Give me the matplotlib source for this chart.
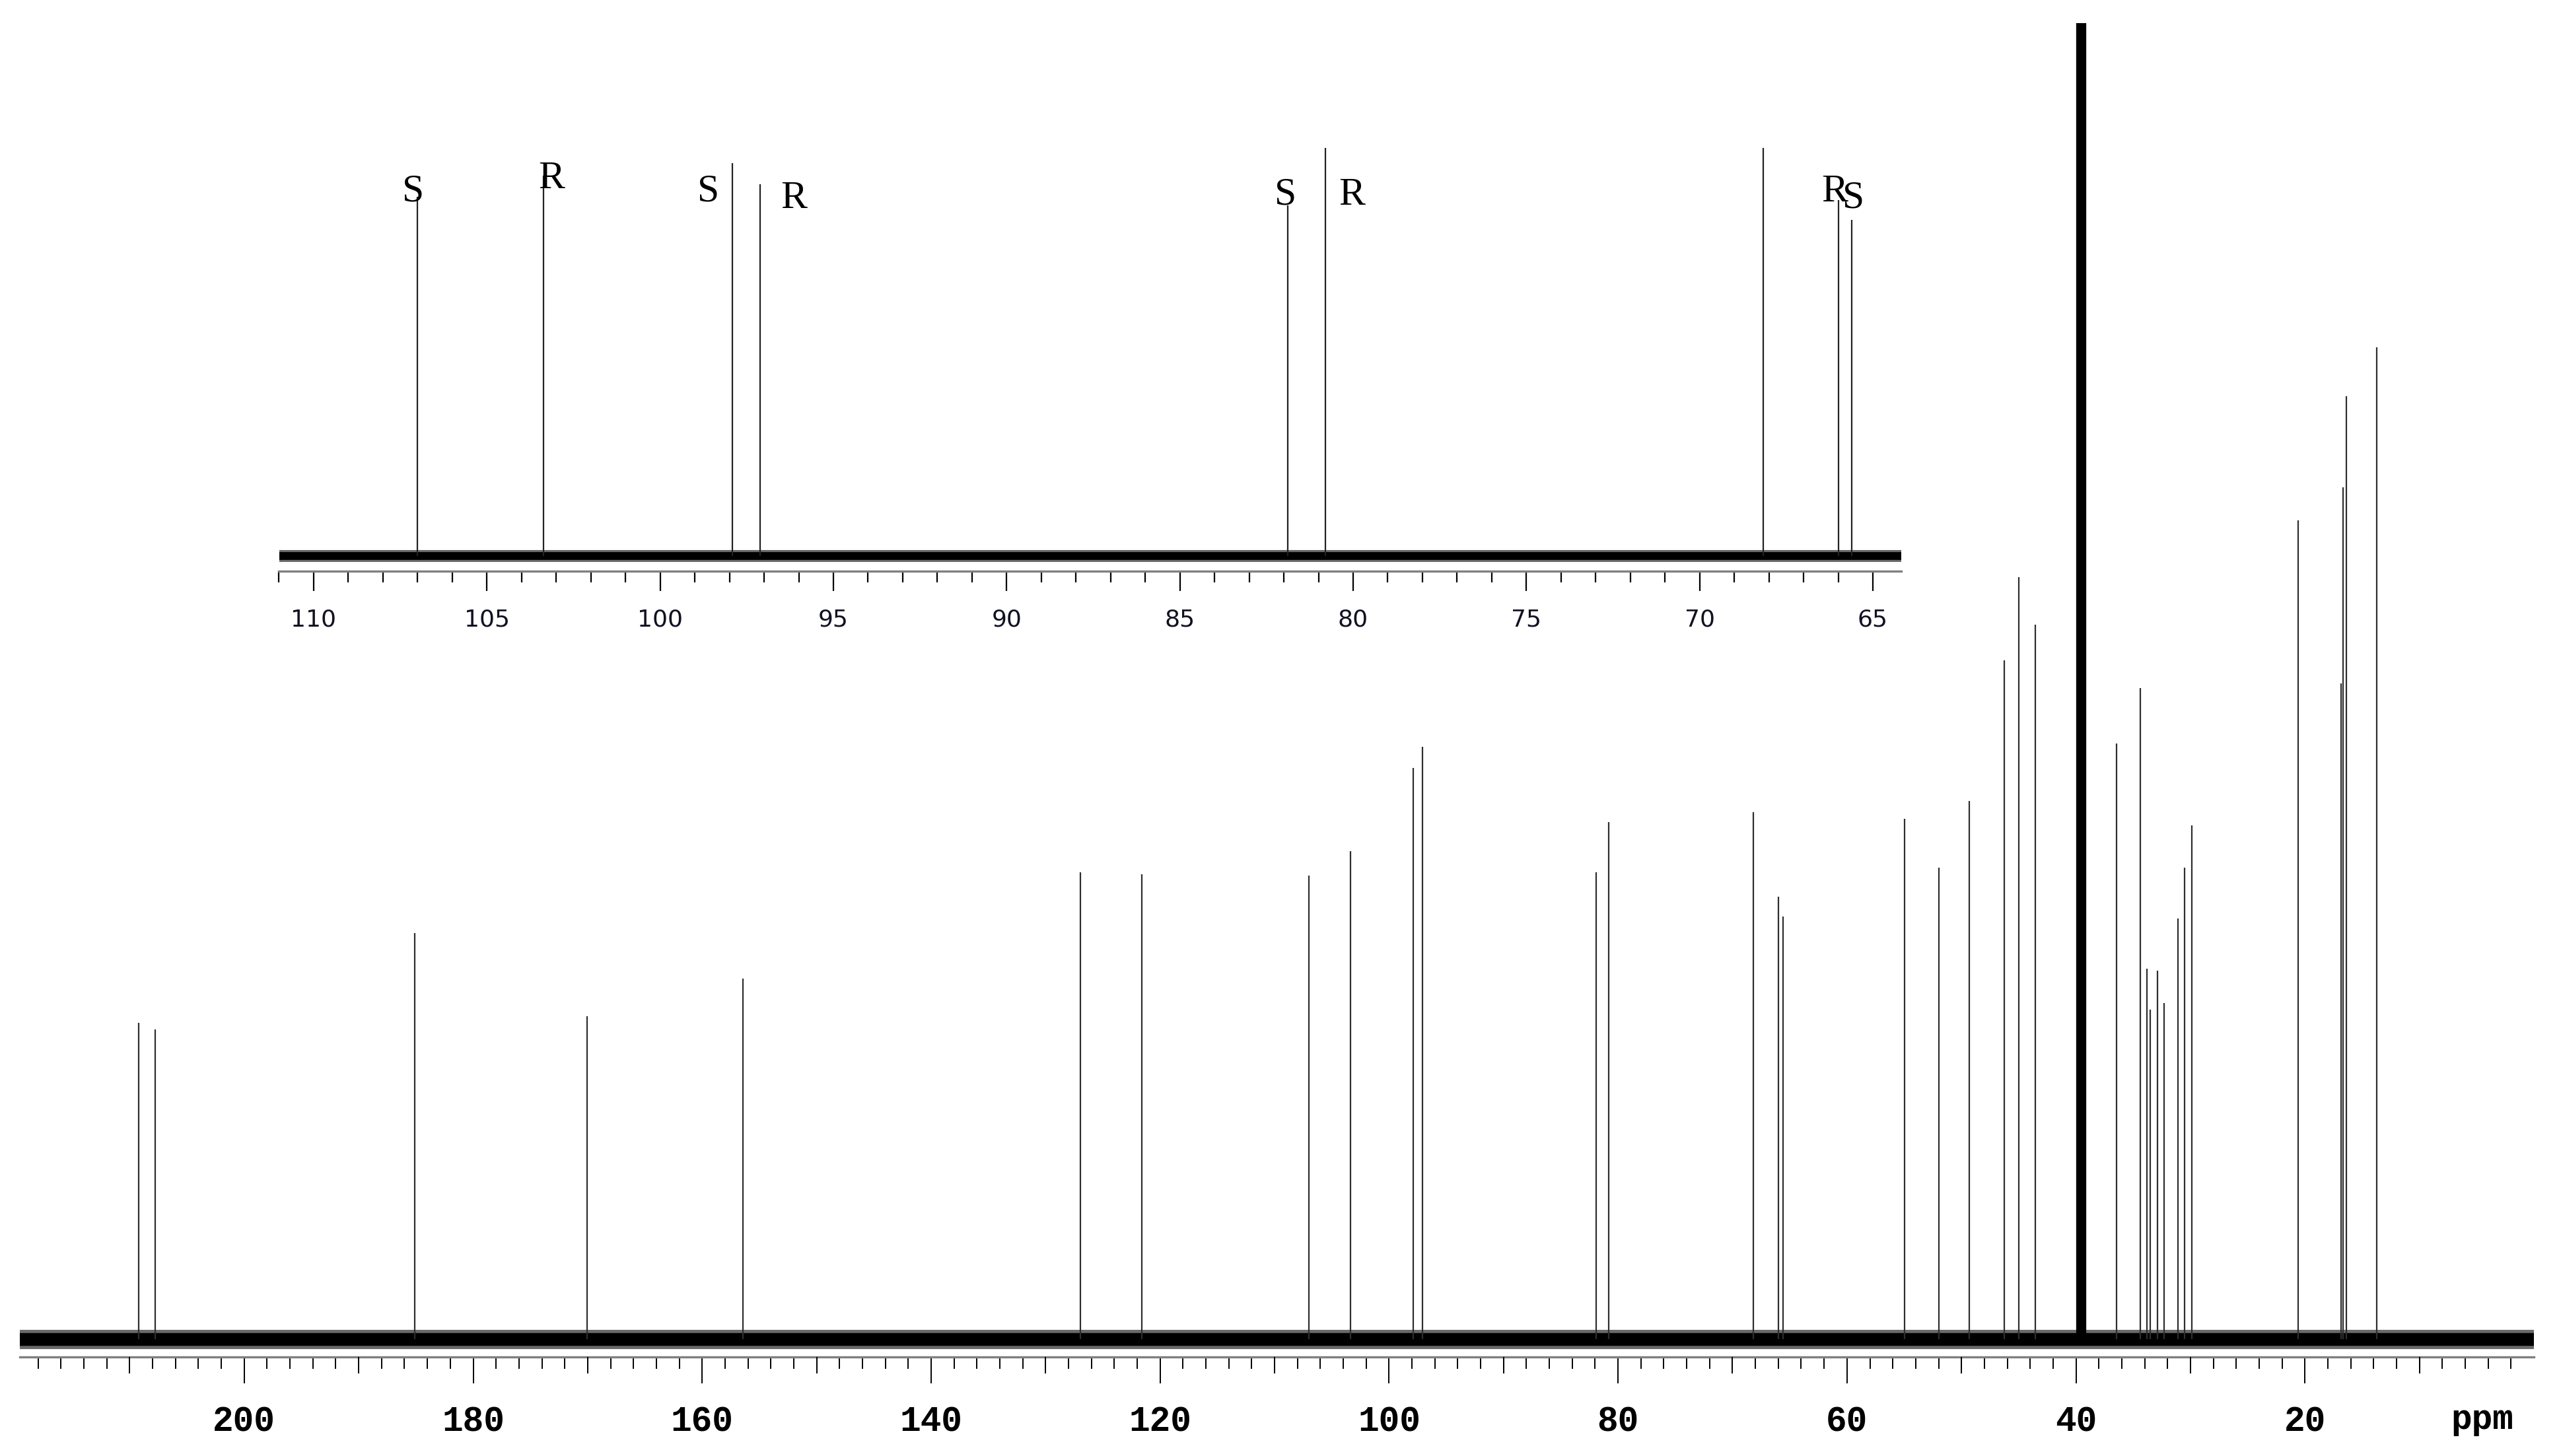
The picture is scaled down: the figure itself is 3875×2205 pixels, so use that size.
import matplotlib
matplotlib.use("Agg")
import matplotlib.pyplot as plt
import numpy as np

# 13C NMR peaks, main spectrum (ppm, intensity in arbitrary units)
main_ppm = [209.2, 207.75, 185.1, 170.05, 156.45, 126.95, 121.6, 107.0, 103.35,
            97.9, 97.1, 81.9, 80.8, 68.2, 66.0, 65.6, 54.95, 51.95, 49.3,
            46.25, 45.0, 43.55, 36.45, 34.4, 33.8, 33.5, 32.9, 32.3, 31.1,
            30.5, 29.9, 20.6, 16.85, 16.65, 16.4, 13.7]
main_int = [194, 190, 249, 198, 221, 286, 285, 284, 299,
            350, 363, 286, 317, 323, 271, 259, 319, 289, 330,
            416, 467, 438, 365, 399, 227, 202, 226, 206, 258,
            289, 315, 502, 402, 522, 578, 608]

# solvent (DMSO-d6), off scale
solvent_ppm = 39.55
solvent_int = 1500

# expanded region 111-64 ppm
inset_ppm = [107.0, 103.37, 97.92, 97.12, 81.89, 80.8, 68.17, 66.0, 65.6]
inset_int = [220, 233, 241, 228, 215, 250, 250, 218, 206]

# R / S assignments in the expansion
label_text = ["S", "R", "S", "R", "S", "R", "R", "S"]
label_ppm = [107.13, 103.14, 98.6, 96.13, 81.95, 80.04, 66.11, 65.55]
label_int = [223, 231, 223, 219, 221, 221, 223, 219]

main_major = list(range(20, 201, 20))
main_mid = list(range(10, 220, 20))
main_minor = list(range(2, 219, 2))
inset_major = list(range(65, 111, 5))
inset_minor = list(range(65, 112, 1))

W, H = 3875, 2205
fig = plt.figure(figsize=(W / 100, H / 100), dpi=100)
fig.patch.set_facecolor("white")

# ---------------- main spectrum ----------------
ax = fig.add_axes([30 / W, (H - 2055) / H, 3807 / W, 2020 / H])
ax.set_xlim(219.6, 0.0)
ax.set_ylim(-10.9, 2020 / 2.471 - 10.9)

# baseline noise band
ax.axhline(0, color="#6a6a6a", lw=21, zorder=1)
ax.axhline(0, color="black", lw=14, zorder=2)
ax.vlines(main_ppm, 0, main_int, color="#2e2e2e", lw=1.6, zorder=3)
ax.vlines([solvent_ppm], 0, [solvent_int], color="black", lw=11, zorder=3)

for s in ["top", "left", "right"]:
    ax.spines[s].set_visible(False)
ax.spines["bottom"].set_color("#808080")
ax.spines["bottom"].set_linewidth(2.4)
ax.set_yticks([])
ax.set_xticks(main_major)
ax.set_xticks(main_minor, minor=True)
ax.tick_params(axis="x", which="major", direction="out", length=29, width=1.4,
               color="black", pad=24, labelsize=38)
ax.tick_params(axis="x", which="minor", direction="out", length=13, width=1.4,
               color="black")
for lab in ax.get_xticklabels():
    lab.set_fontfamily("Liberation Mono")
    lab.set_fontweight("bold")
ax.text(4.5, -0.054, "ppm", transform=ax.get_xaxis_transform(), ha="center",
        va="baseline", fontsize=38, fontfamily="Liberation Mono", fontweight="bold")

# medium ticks every 10 ppm
ax_m = ax.twiny()
ax_m.set_xlim(ax.get_xlim())
ax_m.xaxis.set_ticks_position("bottom")
ax_m.set_xticks(main_mid)
ax_m.tick_params(axis="x", which="major", direction="out", length=18, width=1.4,
                 color="black", labelbottom=False, labeltop=False, top=False)
for s in ax_m.spines.values():
    s.set_visible(False)
ax_m.patch.set_visible(False)

# ---------------- expansion ----------------
ins = fig.add_axes([422.5 / W, (H - 865) / H, (2879 - 422.5) / W, 665 / H])
ins.set_xlim(111.0, 64.18)
ins.set_ylim(-9.3, 665 / 2.471 - 9.3)
ins.patch.set_visible(False)

ins.axhline(0, color="#6a6a6a", lw=13, zorder=1)
ins.axhline(0, color="black", lw=8.5, zorder=2)
ins.vlines(inset_ppm, 0, inset_int, color="#222222", lw=1.6, zorder=3)

for t, x, y in zip(label_text, label_ppm, label_int):
    ins.text(x, y, t, ha="center", va="center", fontsize=43,
             fontfamily="Liberation Serif", color="black", clip_on=False)

for s in ["top", "left", "right"]:
    ins.spines[s].set_visible(False)
ins.spines["bottom"].set_color("#808080")
ins.spines["bottom"].set_linewidth(2.4)
ins.set_yticks([])
ins.set_xticks(inset_major)
ins.set_xticks(inset_minor, minor=True)
ins.tick_params(axis="x", which="major", direction="out", length=21.5, width=1.6,
                color="black", pad=19, labelsize=26, labelcolor="#111122")
ins.tick_params(axis="x", which="minor", direction="out", length=12, width=1.6,
                color="black")

fig.savefig("out.png", dpi=100, facecolor="white")
